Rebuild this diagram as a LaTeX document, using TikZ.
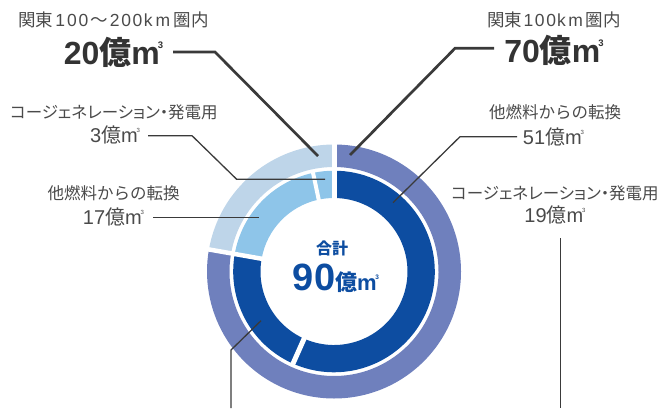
\documentclass[tikz,border=0pt]{standalone}
\usepackage{fontspec}
\setmainfont{Liberation Sans}
\newfontfamily\jp{Noto Sans CJK JP}
\newfontfamily\jpp[RawFeature=+palt]{Noto Sans CJK JP}
\usetikzlibrary{calc}
\definecolor{outerdark}{HTML}{6F80BD}
\definecolor{outerlight}{HTML}{BED5E9}
\definecolor{innerdark}{HTML}{0D4DA1}
\definecolor{innerlight}{HTML}{8EC5E9}
\definecolor{txtgray}{HTML}{4A4A4A}
\definecolor{numgray}{HTML}{333333}
\definecolor{leadgray}{HTML}{3A3A3A}
\newcommand\J[1]{{\jp #1}}
\newcommand\mcube[2]{m\kern-0.06em\raisebox{#2}{\fontsize{#1}{#1}\selectfont 3}}
\newcommand\seg[5]{\fill[#1] ([shift={(#2:#5)}]c) arc[start angle=#2,end angle=#3,radius=#5] -- ([shift={(#3:#4)}]c) arc[start angle=#3,end angle=#2,radius=#4] -- cycle;}
\tikzset{
  lbl/.style={inner sep=0pt, text=txtgray, font=\fontsize{16.5}{18}\selectfont, anchor=center},
  lblbig/.style={lbl, font=\fontsize{17.5}{19}\selectfont},
  num/.style={inner sep=0pt, text=txtgray, font=\fontsize{20}{22}\selectfont, anchor=center},
  bignum/.style={inner sep=0pt, text=numgray, font=\bfseries\fontsize{32}{34}\selectfont, anchor=center},
  leadthick/.style={draw=leadgray, line width=2.7pt},
  leadthin/.style={draw=leadgray, line width=1.3pt},
  gapline/.style={draw=white}
}
\begin{document}
\begin{tikzpicture}[x=1pt,y=1pt]
\useasboundingbox (0,0) rectangle (663,408);
\coordinate (c) at (334,136.5);
% outer ring
\seg{outerdark}{90}{-190}{104.5}{127}
\seg{outerlight}{170}{90}{104.5}{127}
% inner ring
\seg{innerdark}{90}{-114}{73.5}{100.8}
\seg{innerdark}{-114}{-190}{73.5}{100.8}
\seg{innerlight}{170}{102}{73.5}{100.8}
\seg{innerlight}{102}{90}{73.5}{100.8}
% gaps
\draw[gapline, line width=5pt] ([shift={(90:70)}]c) -- ([shift={(90:130)}]c);
\draw[gapline, line width=4.5pt] ([shift={(170:70)}]c) -- ([shift={(170:130)}]c);
\draw[gapline, line width=5pt] ([shift={(-114:70)}]c) -- ([shift={(-114:102.5)}]c);
\draw[gapline, line width=4pt] ([shift={(102:70)}]c) -- ([shift={(102:102.5)}]c);

% texts
\node[lblbig] (t1) at (113.5,388) {\J{関東}\kern2pt 1\kern2pt0\kern2pt0\kern2pt\J{〜}\kern2pt 2\kern1.6pt0\kern1.6pt0\kern1.5pt k\kern3pt m\kern3.5pt\J{圏内}};
\node[bignum] (t2) at (113.5,356) {20\J{億}\mcube{9.5}{16pt}};
\node[lblbig] (t3) at (554,388) {\J{関東}\kern1.5pt 1\kern1.6pt0\kern1.6pt0\kern1pt k\kern2.5pt m\kern3pt\J{圏内}};
\node[bignum] (t4) at (554,358) {70\J{億}\mcube{9.5}{16pt}};
\node[lbl] (t5) at (114,296) {{\jpp コージェネレーション・発電用}};
\node[num] (t6) at (115,273) {3\J{億}\mcube{6}{10pt}};
\node[lbl] (t7) at (113.5,215) {\J{他燃料からの転換}};
\node[num] (t8) at (113.5,191) {17\J{億}\mcube{6}{10pt}};
\node[lbl] (t9) at (555,296) {\J{他燃料からの転換}};
\node[num] (t10) at (553.5,271) {51\J{億}\mcube{6}{10pt}};
\node[lbl] (t11) at (555,215) {{\jpp コージェネレーション・発電用}};
\node[num] (t12) at (555,193) {19\J{億}\mcube{6}{10pt}};
\node[inner sep=0pt, text=innerdark, font=\jp\bfseries\fontsize{16}{18}\selectfont] (t13) at (332,160) {合計};
\node[inner sep=0pt, text=innerdark, font=\bfseries\fontsize{22}{24}\selectfont] (t14) at (336,130) {{\fontsize{38}{40}\selectfont 90}\J{億}\mcube{6.5}{11pt}};

% leader coordinates
\coordinate (s20) at (173,356); \coordinate (b20) at (215,356); \coordinate (e20) at (318,252);
\coordinate (s70) at (494,359.7); \coordinate (b70) at (455,359.7); \coordinate (e70) at (350,253);
\coordinate (s3) at (148,272.3); \coordinate (b3a) at (192,272.3); \coordinate (b3b) at (236.7,228.7); \coordinate (e3) at (325,228.7);
\coordinate (s17) at (153,190.5); \coordinate (e17) at (259,190.5);
\coordinate (s51) at (517,271.3); \coordinate (b51) at (460,271.3); \coordinate (e51) at (393,205.3);
\coordinate (s19) at (560.7,170); \coordinate (e19) at (560.7,0);
\coordinate (sb) at (261,87.3); \coordinate (bb) at (231,58); \coordinate (eb) at (231,0);

\draw[leadthick] (s20) -- (b20) -- (e20);
\draw[leadthick] (s70) -- (b70) -- (e70);
\draw[leadthin] (s3) -- (b3a) -- (b3b) -- (e3);
\draw[leadthin] (s17) -- (e17);
\draw[leadthin] (s51) -- (b51) -- (e51);
\draw[leadthin] (s19) -- (e19);
\draw[leadthin] (sb) -- (bb) -- (eb);
\end{tikzpicture}
\end{document}
